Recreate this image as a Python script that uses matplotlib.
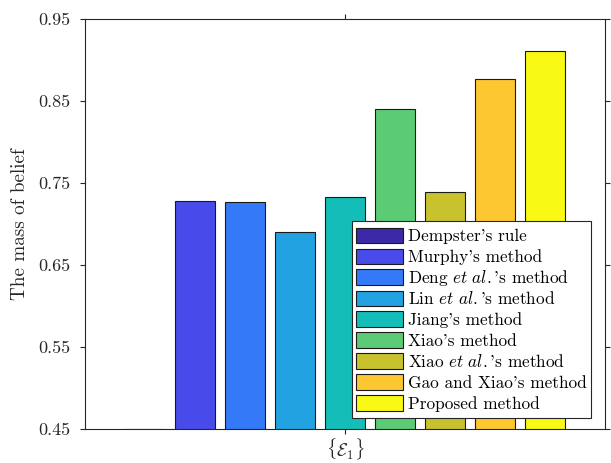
import matplotlib
matplotlib.use("Agg")
import matplotlib.pyplot as plt
from matplotlib.patches import Rectangle
from matplotlib.legend_handler import HandlerPatch
import numpy as np

plt.rcParams["font.family"] = "serif"
plt.rcParams["font.serif"] = ["cmr10"]
plt.rcParams["mathtext.fontset"] = "cm"
plt.rcParams["axes.formatter.use_mathtext"] = True

methods = [
    "Dempster's rule",
    "Murphy's method",
    r"Deng $\mathit{et\ al.}$'s method",
    r"Lin $\mathit{et\ al.}$'s method",
    "Jiang's method",
    "Xiao's method",
    r"Xiao $\mathit{et\ al.}$'s method",
    "Gao and Xiao's method",
    "Proposed method",
]
belief = [0.4505, 0.7275, 0.7263, 0.6900, 0.7327, 0.8396, 0.7392, 0.8769, 0.9106]
colors = ["#3c29a7", "#484bea", "#3479f8", "#22a2e0", "#14bdb8",
          "#5ccb76", "#c8c22f", "#fdc732", "#f8f914"]
group_label = r"$\{\mathcal{E}_1\}$"

dark = "#262626"

fig = plt.figure(figsize=(6.11, 4.63), dpi=100)
ax = fig.add_axes([0.1386, 0.0734, 0.8521, 0.8862])

# grouped bars around a single group at x = 0
pitch = 0.1
n = len(methods)
offsets = (np.arange(n) - (n - 1) / 2) * pitch
handles = []
for off, val, col, lab in zip(offsets, belief, colors, methods):
    bc = ax.bar(off, val, width=0.079, color=col, edgecolor="#1a1a1a",
                linewidth=0.8, label=lab, zorder=2)
    handles.append(bc.patches[0])

ax.set_xlim(-0.5206, 0.5206)
ax.set_ylim(0.45, 0.95)
ax.set_yticks([0.45, 0.55, 0.65, 0.75, 0.85, 0.95])
ax.set_yticklabels(["0.45", "0.55", "0.65", "0.75", "0.85", "0.95"])
ax.set_xticks([0])
ax.set_xticklabels([group_label])

ax.tick_params(direction="out", length=3.6, width=0.8, colors=dark,
               labelsize=13, top=True, right=True, labelcolor=dark)
ax.tick_params(axis="y", pad=6.5)
ax.tick_params(axis="x", pad=2)
for sp in ax.spines.values():
    sp.set_color(dark)
    sp.set_linewidth(0.8)

ax.set_ylabel("The mass of belief", fontsize=13.8, color=dark, labelpad=7)


# legend patches smaller than their row so every row gets the same height
def small_box(legend, orig_handle, xdescent, ydescent, width, height, fontsize):
    h = 11.3
    return Rectangle((-xdescent, -ydescent + (height - h) / 2), width, h)


leg = ax.legend(handles, methods, loc="upper left",
                bbox_to_anchor=(0.5756, 0.5233),
                bbox_transform=fig.transFigure, fontsize=12.4, frameon=True,
                fancybox=False, edgecolor=dark, framealpha=1,
                handlelength=2.73, handleheight=1.49, handletextpad=0.3,
                labelspacing=0.0, borderpad=0.25, borderaxespad=0,
                handler_map={Rectangle: HandlerPatch(patch_func=small_box)})
leg.get_frame().set_linewidth(0.8)

plt.savefig("out.png", dpi=100)
